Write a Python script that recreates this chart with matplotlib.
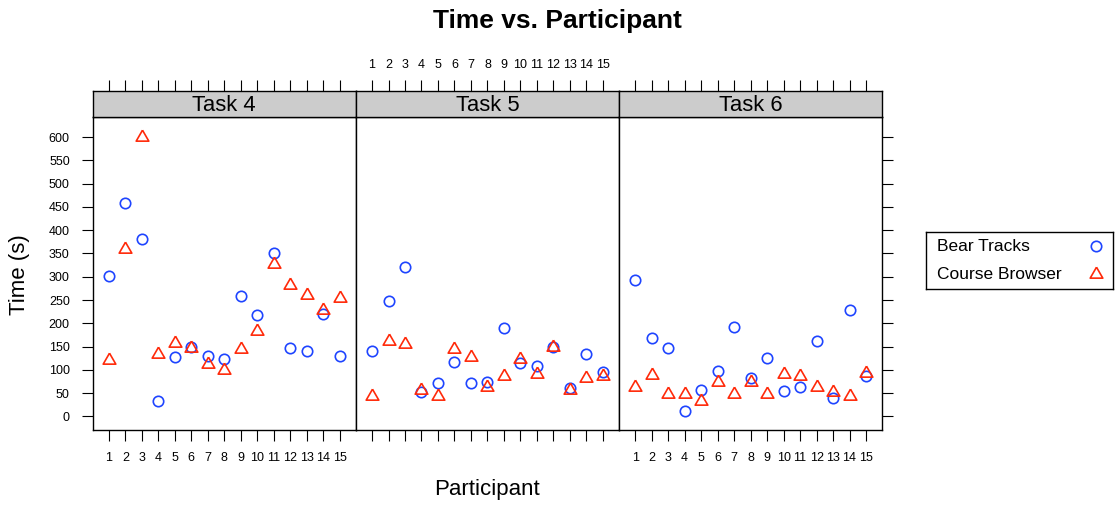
import matplotlib
matplotlib.use('Agg')
import matplotlib.pyplot as plt

plt.rcParams['font.family'] = ['Liberation Sans', 'DejaVu Sans']

participants = list(range(1, 16))
tasks = ["Task 4", "Task 5", "Task 6"]

# seconds per participant
bear_tracks = {
    "Task 4": [301, 459, 382, 34, 128, 150, 130, 124, 258, 218, 351, 148, 140, 221, 130],
    "Task 5": [140, 249, 321, 52, 72, 117, 72, 74, 191, 115, 109, 149, 62, 135, 95],
    "Task 6": [294, 169, 146, 12, 57, 98, 193, 82, 126, 54, 64, 163, 39, 228, 86],
}
course_browser = {
    "Task 4": [121, 359, 601, 135, 157, 148, 113, 99, 145, 183, 328, 283, 260, 228, 255],
    "Task 5": [43, 163, 155, 56, 43, 145, 127, 64, 88, 123, 92, 150, 57, 82, 86],
    "Task 6": [64, 89, 48, 48, 33, 75, 49, 74, 49, 92, 88, 64, 52, 43, 93],
}
yticks = list(range(0, 601, 50))
series_names = ["Bear Tracks", "Course Browser"]

BLUE = '#1f45ff'
RED = '#ff2a0a'
# R style triangle (centroid on the point)
TRI = [(0, 1), (-0.866, -0.5), (0.866, -0.5), (0, 1)]
styles = [dict(marker='o', ms=7.5, mec=BLUE), dict(marker=TRI, ms=10.5, mec=RED)]

W, H = 1115, 505
fig = plt.figure(figsize=(W / 100, H / 100), dpi=100)

px_left = 92.7
px_w = 263.17
panel_bottom = (H - 430) / H
panel_h = (430 - 117) / H
strip_bottom = (H - 117) / H
strip_h = 26 / H

xlim = (0.02, 15.98)
ylim = (-29, 643)
TICK = dict(direction='out', length=8, width=0.8, labelsize=9)

for i, task in enumerate(tasks):
    left = (px_left + i * px_w) / W
    ax = fig.add_axes([left, panel_bottom, px_w / W, panel_h])
    for vals, st in zip([bear_tracks[task], course_browser[task]], styles):
        ax.plot(participants, vals, ls='none', mfc='none', mew=1.2, **st)
    ax.set_xlim(xlim)
    ax.set_ylim(ylim)
    ax.set_xticks(participants)
    ax.set_yticks(yticks)
    ax.tick_params(axis='x', top=False, bottom=True, labelbottom=(i != 1),
                   pad=8, **TICK)
    ax.tick_params(axis='y', left=(i == 0), labelleft=(i == 0), right=(i == 2),
                   labelright=False, pad=8.5, **TICK)
    for s in ax.spines.values():
        s.set_linewidth(1.0)

    # strip with the panel name, top ticks sit on it
    sax = fig.add_axes([left, strip_bottom, px_w / W, strip_h])
    sax.set_facecolor('#cccccc')
    sax.set_xlim(xlim)
    sax.set_ylim(0, 1)
    sax.set_yticks([])
    sax.set_xticks(participants)
    sax.tick_params(axis='x', bottom=False, labelbottom=False, top=True,
                    labeltop=(i == 1), pad=6.5, **TICK)
    for s in sax.spines.values():
        s.set_linewidth(1.0)
    sax.text(0.5, 0.45, task, transform=sax.transAxes, ha='center', va='center',
             fontsize=15.8)

fig.text(0.5, 1 - 21 / H, "Time vs. Participant", ha='center', va='center',
         fontsize=19, fontweight='bold')
fig.text(487.5 / W, 1 - 490 / H, "Participant", ha='center', va='center', fontsize=16)
fig.text(20 / W, 1 - 275 / H, "Time (s)", ha='center', va='center', fontsize=16,
         rotation=90)

# key box on the right, text left aligned with the symbol after it
lax = fig.add_axes([925.7 / W, (H - 289) / H, 187 / W, 57 / H])
lax.set_xlim(0, 1)
lax.set_ylim(0, 1)
lax.set_xticks([])
lax.set_yticks([])
for s in lax.spines.values():
    s.set_linewidth(1.0)
for row_y, name, st in zip([0.75, 0.26], series_names, styles):
    lax.text(0.06, row_y, name, ha='left', va='center', fontsize=12.5)
    lax.plot([0.912], [row_y], ls='none', mfc='none', mew=1.2, **st)

fig.savefig('out.png', dpi=100)
